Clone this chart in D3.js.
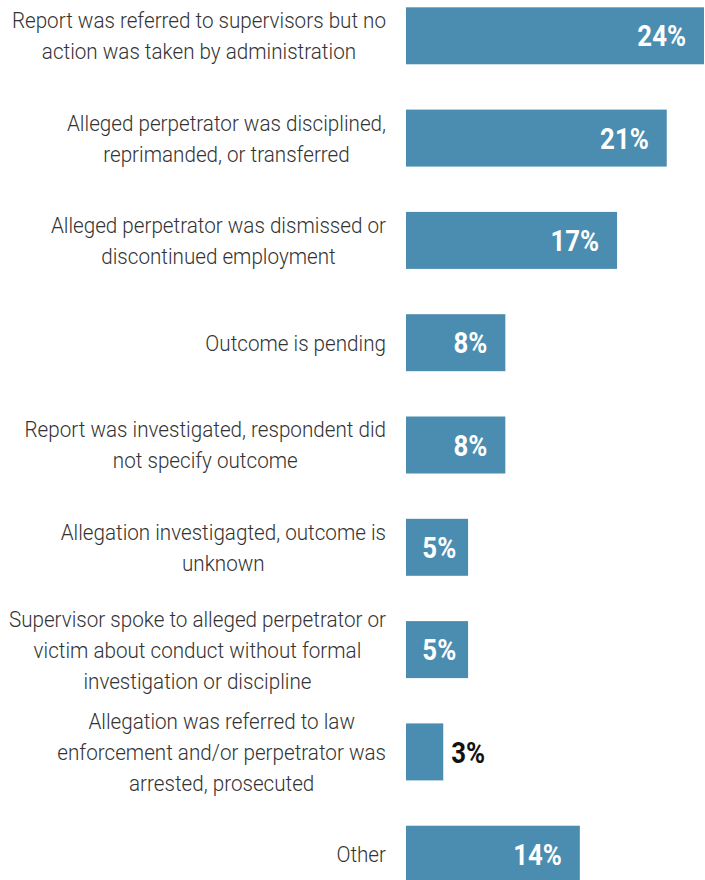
<!DOCTYPE html>
<html>
<head>
<meta charset="utf-8">
<script src="https://cdn.jsdelivr.net/npm/d3@7"></script>
<style>
  body { margin: 0; background: #fff; }
  svg { display: block; }
</style>
</head>
<body>
<svg id="chart" width="705" height="880"></svg>
<script>
// categories, one entry per line of the wrapped label
var categories = [
    ["Report was referred to supervisors but no", "action was taken by administration"],
    ["Alleged perpetrator was disciplined,", "reprimanded, or transferred"],
    ["Alleged perpetrator was dismissed or", "discontinued employment"],
    ["Outcome is pending"],
    ["Report was investigated, respondent did", "not specify outcome"],
    ["Allegation investigagted, outcome is", "unknown"],
    ["Supervisor spoke to alleged perpetrator or", "victim about conduct without formal", "investigation or discipline"],
    ["Allegation was referred to law", "enforcement and/or perpetrator was", "arrested, prosecuted"],
    ["Other"]
];
var values = [24, 21, 17, 8, 8, 5, 5, 3, 14];

var barColor = '#4a8db1';
var labelSqueeze = 0.918; // fake a condensed face
var valueSqueeze = 0.86;

var svg = d3.select('#chart');

var keys = categories.map(function(d, i){ return i; });

var y = d3.scaleBand()
    .domain(keys)
    .range([7.3, 882.7])
    .paddingInner(0.443)
    .paddingOuter(0);

var x = d3.scaleLinear()
    .domain([0, 24])
    .range([406, 704]);

var rows = svg.selectAll('g.row')
    .data(keys)
    .enter().append('g')
    .attr('class', 'row');

rows.append('rect')
    .attr('x', x(0))
    .attr('y', function(d){ return y(d); })
    .attr('width', function(d){ return x(values[d]) - x(0); })
    .attr('height', y.bandwidth())
    .attr('fill', barColor);

// category labels: block sits right of x=386, lines centred within it
var lineH = 31;
rows.append('g')
    .attr('transform', function(d){
        return 'translate(386,' + (y(d) + y.bandwidth() / 2) + ') scale(' + labelSqueeze + ',1)';
    })
    .each(function(d){
        var lines = categories[d];
        var g = d3.select(this);
        var off = -(lines.length - 1) * lineH / 2;
        var texts = lines.map(function(line, j){
            return g.append('text')
                .attr('y', off + j * lineH)
                .attr('dy', '0.355em')
                .attr('text-anchor', 'middle')
                .style('font-family', 'Roboto, sans-serif')
                .style('font-weight', 300)
                .style('font-size', '22.5px')
                .style('fill', '#333')
                .text(line);
        });
        var maxW = d3.max(texts, function(t){ return t.node().getComputedTextLength(); });
        texts.forEach(function(t){ t.attr('x', -maxW / 2); });
    });

// value labels: inside for wide bars, outside for narrow
rows.append('g')
    .each(function(d){
        var inside = values[d] >= 5;
        var end = x(values[d]);
        var cy = y(d) + y.bandwidth() / 2;
        var t = d3.select(this).append('text')
            .attr('dy', '0.355em')
            .attr('text-anchor', inside ? 'end' : 'start')
            .style('font-family', 'Roboto, sans-serif')
            .style('font-weight', 700)
            .style('font-size', '30px')
            .style('fill', inside ? '#fff' : '#111')
            .text(values[d] + '%');
        var px;
        if (inside) {
            // small bars: pull the label in so it doesn't hug the left edge
            var tw = t.node().getComputedTextLength() * valueSqueeze;
            var pad = Math.min(18, (end - x(0) - tw) * 0.42);
            px = end - pad;
        } else {
            px = end + 8;
        }
        t.attr('transform', 'translate(' + px + ',' + cy + ') scale(' + valueSqueeze + ',1)');
    });
</script>
</body>
</html>
